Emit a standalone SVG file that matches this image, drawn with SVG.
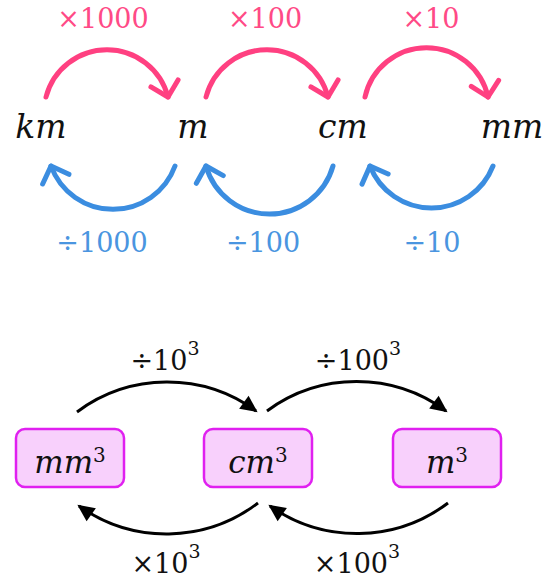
<svg xmlns="http://www.w3.org/2000/svg" width="547" height="581" viewBox="0 0 547 581">
<style>
.lbl{font-family:"DejaVu Serif",serif;font-size:27px;text-anchor:middle}
.unit{font-family:"DejaVu Serif",serif;font-style:italic;font-size:33px;text-anchor:middle;fill:#111}
.bunit{font-family:"DejaVu Serif",serif;font-style:italic;font-size:31px;text-anchor:middle;fill:#111}
.sup{font-style:normal}
.pink{fill:#ff4a86}
.blue{fill:#4a95e0}
.blk{fill:#111}
.pa{fill:none;stroke:#ff4081;stroke-width:5;stroke-linecap:round}
.ba{fill:none;stroke:#3b8de0;stroke-width:5;stroke-linecap:round}
.ka{fill:none;stroke:#000;stroke-width:3}
.box{fill:#f8d0fc;stroke:#e020f0;stroke-width:2.5}
</style>
<defs>
<marker id="chevP" markerUnits="userSpaceOnUse" markerWidth="40" markerHeight="40" viewBox="-20 -20 40 40" refX="0" refY="0" orient="auto">
<path d="M -14 -14 L 0 0 L -14 14" fill="none" stroke="#ff4081" stroke-width="5" stroke-linecap="round" stroke-linejoin="round"/>
</marker>
<marker id="chevB" markerUnits="userSpaceOnUse" markerWidth="40" markerHeight="40" viewBox="-20 -20 40 40" refX="0" refY="0" orient="auto">
<path d="M -14 -14 L 0 0 L -14 14" fill="none" stroke="#3b8de0" stroke-width="5" stroke-linecap="round" stroke-linejoin="round"/>
</marker>
<marker id="tri" markerUnits="userSpaceOnUse" markerWidth="40" markerHeight="40" viewBox="-20 -20 40 40" refX="0" refY="0" orient="auto">
<path d="M 2 0 L -15 -8 L -15 8 Z" fill="#000"/>
</marker>
</defs>

<g id="connectors">
<path class="pa" d="M 46 97 A 63 63 0 0 1 168 97" marker-end="url(#chevP)"/>
<path class="pa" d="M 206 97 A 63 63 0 0 1 328 97" marker-end="url(#chevP)"/>
<path class="pa" d="M 365 97 A 63 63 0 0 1 488 97" marker-end="url(#chevP)"/>
<path class="ba" d="M 175 166 A 66 66 0 0 1 51 166" marker-end="url(#chevB)"/>
<path class="ba" d="M 333 166 A 66 66 0 0 1 206 166" marker-end="url(#chevB)"/>
<path class="ba" d="M 493 166 A 66 66 0 0 1 370 166" marker-end="url(#chevB)"/>
<path class="ka" d="M 77 412 A 151 151 0 0 1 256 411" marker-end="url(#tri)"/>
<path class="ka" d="M 267 411 A 151 151 0 0 1 446 411" marker-end="url(#tri)"/>
<path class="ka" d="M 258 503 A 151 151 0 0 1 79 506" marker-end="url(#tri)"/>
<path class="ka" d="M 448 503 A 151 151 0 0 1 270 506" marker-end="url(#tri)"/>
</g>

<g id="labels">
<text class="lbl pink" x="103" y="28">×1000</text>
<text class="lbl pink" x="265" y="28">×100</text>
<text class="lbl pink" x="431" y="28">×10</text>
<text class="lbl blue" x="102" y="252">÷1000</text>
<text class="lbl blue" x="263" y="252">÷100</text>
<text class="lbl blue" x="432" y="252">÷10</text>
<text class="lbl blk" x="165" y="370">÷10<tspan dy="-15" font-size="19">3</tspan></text>
<text class="lbl blk" x="358" y="370">÷100<tspan dy="-15" font-size="19">3</tspan></text>
<text class="lbl blk" x="166" y="573">×10<tspan dy="-15" font-size="19">3</tspan></text>
<text class="lbl blk" x="357" y="573">×100<tspan dy="-15" font-size="19">3</tspan></text>
</g>

<g id="node-km"><text class="unit" x="41" y="138">km</text></g>
<g id="node-m"><text class="unit" x="193" y="138">m</text></g>
<g id="node-cm"><text class="unit" x="343" y="138">cm</text></g>
<g id="node-mm"><text class="unit" x="512" y="138">mm</text></g>

<g id="node-mm3">
<rect class="box" x="16" y="429" width="108" height="58" rx="9"/>
<text class="bunit" x="70" y="473">mm<tspan class="sup" dy="-11" font-size="20">3</tspan></text>
</g>
<g id="node-cm3">
<rect class="box" x="204" y="429" width="108" height="58" rx="9"/>
<text class="bunit" x="258" y="473">cm<tspan class="sup" dy="-11" font-size="20">3</tspan></text>
</g>
<g id="node-m3">
<rect class="box" x="393" y="429" width="108" height="58" rx="9"/>
<text class="bunit" x="447" y="473">m<tspan class="sup" dy="-11" font-size="20">3</tspan></text>
</g>
</svg>
